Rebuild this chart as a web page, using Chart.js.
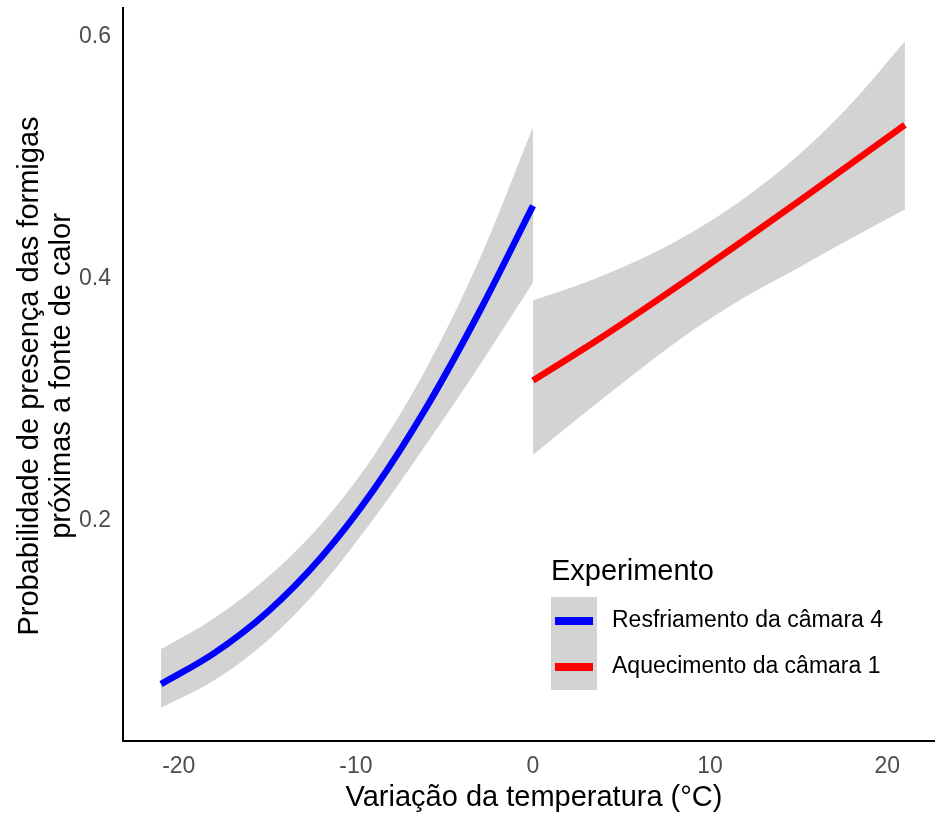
<!DOCTYPE html>
<html>
<head>
<meta charset="utf-8">
<script src="https://cdn.jsdelivr.net/npm/chart.js@4"></script>
<style>
  html, body { margin: 0; padding: 0; background: #fff; }
  #wrap { width: 935px; height: 814px; }
</style>
</head>
<body>
<div id="wrap"><canvas id="myChart" width="935" height="814"></canvas></div>
<script>
// temperature change (°C) and fitted probability
const coolX = [-21, -18, -15, -12, -9, -6, -3, 0];
const coolFit = [0.065, 0.0906, 0.1245, 0.1691, 0.2255, 0.294, 0.3733, 0.4601];
const coolUpper = [0.094, 0.1195, 0.153, 0.1965, 0.2535, 0.3265, 0.4165, 0.525];
const coolLower = [0.0455, 0.0682, 0.1009, 0.1455, 0.2015, 0.2638, 0.3287, 0.3965];

const warmX = [0, 3, 6, 9, 12, 15, 18, 21];
const warmFit = [0.3157, 0.3432, 0.3721, 0.402, 0.4327, 0.4638, 0.4953, 0.527];
const warmUpper = [0.382, 0.397, 0.4155, 0.4385, 0.467, 0.502, 0.545, 0.596];
const warmLower = [0.2545, 0.290, 0.3245, 0.357, 0.385, 0.409, 0.4335, 0.457];

const xTicks = [-20, -10, 0, 10, 20];
const yTicks = [0.2, 0.4, 0.6];
const yTickLabels = ['0.2', '0.4', '0.6'];

const seriesNames = ['Resfriamento da câmara 4', 'Aquecimento da câmara 1'];

const colors = {
  cool: '#0000ff',
  warm: '#ff0000',
  ribbon: '#d3d3d3',
  tick: '#4d4d4d'
};

const FONT = '"Liberation Sans", Arial, sans-serif';

function pts(xs, ys) {
  return xs.map((x, i) => ({ x: x, y: ys[i] }));
}

function line(label, xs, ys, color) {
  return {
    label: label,
    data: pts(xs, ys),
    borderColor: color,
    borderWidth: 6.5,
    borderCapStyle: 'butt',
    pointRadius: 0,
    fill: false,
    cubicInterpolationMode: 'monotone'
  };
}

function band(xs, ys, fill) {
  return {
    data: pts(xs, ys),
    borderWidth: 0,
    borderColor: 'rgba(0,0,0,0)',
    backgroundColor: colors.ribbon,
    pointRadius: 0,
    fill: fill,
    cubicInterpolationMode: 'monotone'
  };
}

// axis titles and legend box, ggplot style
const decorations = {
  id: 'decorations',
  afterDraw(chart) {
    const ctx = chart.ctx;
    ctx.save();
    ctx.fillStyle = '#000';
    ctx.textAlign = 'center';
    ctx.textBaseline = 'middle';
    ctx.font = '29px ' + FONT;
    ctx.fillText('Variação da temperatura (°C)', 534, 798);

    ctx.save();
    ctx.translate(0, 376);
    ctx.rotate(-Math.PI / 2);
    ctx.fillText('Probabilidade de presença das formigas', 0, 30);
    ctx.fillText('próximas a fonte de calor', 0, 62);
    ctx.restore();

    // legend
    ctx.textAlign = 'left';
    ctx.fillText('Experimento', 551, 572);
    ctx.fillStyle = colors.ribbon;
    ctx.fillRect(551, 597, 46, 93);
    ctx.fillStyle = colors.cool;
    ctx.fillRect(555, 617, 38, 8);
    ctx.fillStyle = colors.warm;
    ctx.fillRect(555, 663, 38, 8);
    ctx.fillStyle = '#000';
    ctx.font = '23px ' + FONT;
    ctx.fillText(seriesNames[0], 612, 621);
    ctx.fillText(seriesNames[1], 612, 667);
    ctx.restore();
  }
};

const myChart = document.getElementById('myChart').getContext('2d');

const chart = new Chart(myChart, {
  type: 'line',
  data: {
    datasets: [
      line(seriesNames[0], coolX, coolFit, colors.cool),
      line(seriesNames[1], warmX, warmFit, colors.warm),
      band(coolX, coolUpper, '+1'),
      band(coolX, coolLower, false),
      band(warmX, warmUpper, '+1'),
      band(warmX, warmLower, false)
    ]
  },
  options: {
    responsive: false,
    animation: false,
    layout: { padding: { top: 8, right: 0, left: 0, bottom: 0 } },
    plugins: {
      legend: { display: false },
      tooltip: { enabled: false }
    },
    scales: {
      x: {
        type: 'linear',
        min: -23.15,
        max: 22.7,
        grid: { display: false, drawTicks: false },
        border: { display: true, color: '#000', width: 2 },
        ticks: {
          color: colors.tick,
          font: { family: FONT, size: 23 },
          padding: 12,
          maxRotation: 0
        },
        afterBuildTicks: (scale) => {
          scale.ticks = xTicks.map(v => ({ value: v }));
        },
        afterFit: (scale) => {
          scale.height = 73;
          scale.paddingLeft = 0;
          scale.paddingRight = 0;
        }
      },
      y: {
        type: 'linear',
        min: 0.018,
        max: 0.6235,
        grid: { display: false, drawTicks: false },
        border: { display: true, color: '#000', width: 2 },
        ticks: {
          color: colors.tick,
          font: { family: FONT, size: 23 },
          padding: 12,
          callback: (value) => {
            const i = yTicks.findIndex(t => Math.abs(t - value) < 1e-9);
            return i >= 0 ? yTickLabels[i] : '';
          }
        },
        afterBuildTicks: (scale) => {
          scale.ticks = yTicks.map(v => ({ value: v }));
        },
        afterFit: (scale) => {
          scale.width = 123;
          scale.paddingTop = 0;
          scale.paddingBottom = 0;
        }
      }
    }
  },
  plugins: [decorations]
});
</script>
</body>
</html>
